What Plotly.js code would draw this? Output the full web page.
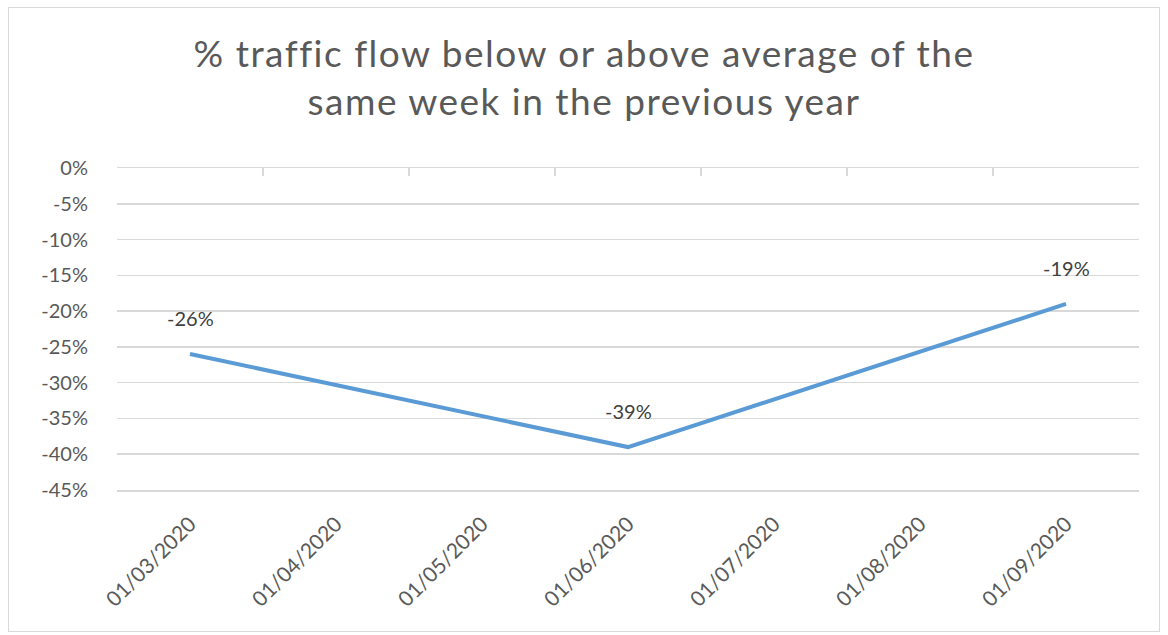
<!DOCTYPE html>
<html>
<head>
<meta charset="utf-8">
<script src="https://cdn.plot.ly/plotly-3.0.1.min.js"></script>
<style>
html,body{margin:0;padding:0;background:#fff;}
#chart{width:1168px;height:635px;}
#frame{position:absolute;left:8px;top:7px;width:1150px;height:623px;border:1px solid #d9d9d9;pointer-events:none;}
#chart .gtitle{letter-spacing:1.5px;}
</style>
</head>
<body>
<div id="chart"></div>
<div id="frame"></div>
<script>
const months = ["01/03/2020","01/04/2020","01/05/2020","01/06/2020","01/07/2020","01/08/2020","01/09/2020"];
const trafficChange = [-26, null, null, -39, null, null, -19];
const yTickVals = [0,-5,-10,-15,-20,-25,-30,-35,-40,-45];
const yTickText = ["0%","-5%","-10%","-15%","-20%","-25%","-30%","-35%","-40%","-45%"];
const titleText = "% traffic flow below or above average of the<br>same week in the previous year";

const fontFam = "Lato, 'Open Sans', sans-serif";
const gray = "#595959";

const trace = {
  x: months, y: trafficChange, type: "scatter", mode: "lines",
  connectgaps: true,
  line: {color: "#5b9bd5", width: 4},
  hoverinfo: "skip", showlegend: false
};
const boundaryTrace = {
  x: [-0.5, 6.5], y: [0, 0], xaxis: "x2", yaxis: "y", type: "scatter", mode: "lines",
  line: {color: "rgba(0,0,0,0)", width: 0}, hoverinfo: "skip", showlegend: false
};

const annotations = [];
months.forEach((m, i) => {
  if (trafficChange[i] !== null) {
    annotations.push({
      x: m, y: trafficChange[i], xref: "x", yref: "y",
      text: trafficChange[i] + "%", showarrow: false, yshift: 36,
      font: {family: fontFam, size: 20, color: "#404040"}
    });
  }
});

const layout = {
  width: 1168, height: 635,
  margin: {l: 117, r: 29, t: 168, b: 145},
  paper_bgcolor: "#fff", plot_bgcolor: "#fff",
  title: {text: titleText, x: 0.5, xref: "container", xanchor: "center", y: 0.894, yref: "container", yanchor: "middle",
          font: {family: fontFam, size: 37, color: gray}},
  font: {family: fontFam, color: gray},
  xaxis: {
    type: "category", range: [-0.5, 6.5], showgrid: false, zeroline: false,
    showline: true, mirror: true, linecolor: "#d9d9d9", linewidth: 1.5,
    tickangle: -45, ticks: "outside", ticklen: 12, tickcolor: "rgba(0,0,0,0)",
    tickfont: {family: fontFam, size: 21, color: gray}
  },
  xaxis2: {
    overlaying: "x", side: "top", anchor: "y", range: [-0.502, 6.502], type: "linear",
    tickvals: [-0.5,0.5,1.5,2.5,3.5,4.5,5.5,6.5], showticklabels: false,
    ticks: "inside", ticklen: 8, tickcolor: "#d9d9d9", tickwidth: 1.5,
    showgrid: false, zeroline: false, showline: false
  },
  yaxis: {
    range: [-45, 0], tickvals: yTickVals, ticktext: yTickText,
    showgrid: true, gridcolor: "#d9d9d9", gridwidth: 1.5, zeroline: false, showline: false,
    ticks: "outside", ticklen: 24, tickcolor: "rgba(0,0,0,0)",
    tickfont: {family: fontFam, size: 20, color: gray}
  },
  annotations: annotations
};

Plotly.newPlot("chart", [trace, boundaryTrace], layout, {staticPlot: true, displayModeBar: false});
</script>
</body>
</html>
